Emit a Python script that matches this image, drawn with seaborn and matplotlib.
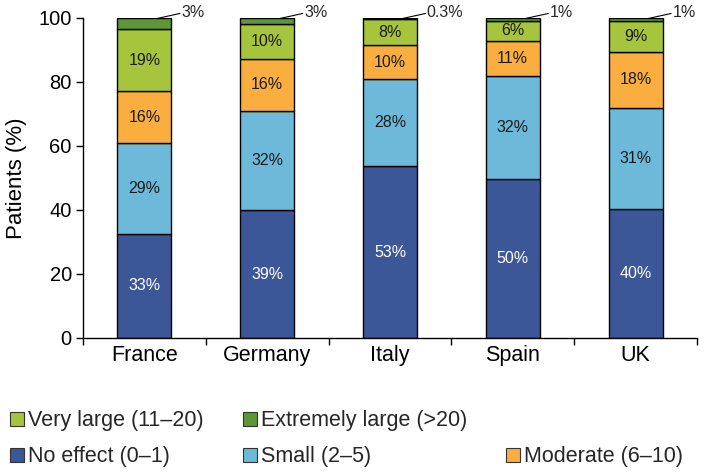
import matplotlib
matplotlib.use("Agg")
import matplotlib.pyplot as plt
import seaborn as sns
import pandas as pd
import numpy as np
from matplotlib.patches import Patch

# data
countries = ['France', 'Germany', 'Italy', 'Spain', 'UK']
categories = ['No effect (0\u20131)', 'Small (2\u20135)', 'Moderate (6\u201310)',
              'Very large (11\u201320)', 'Extremely large (>20)']
no_effect = [32.6, 39.9, 53.6, 49.8, 40.3]
small = [28.3, 31.1, 27.3, 31.9, 31.5]
moderate = [16.2, 16.1, 10.5, 11.2, 17.7]
very_large = [19.5, 10.9, 8.4, 6.2, 9.4]
extremely_large = [3.4, 2.0, 0.2, 0.9, 1.1]

label_no_effect = ['33%', '39%', '53%', '50%', '40%']
label_small = ['29%', '32%', '28%', '32%', '31%']
label_moderate = ['16%', '16%', '10%', '11%', '18%']
label_very_large = ['19%', '10%', '8%', '6%', '9%']
label_extremely_large = ['3%', '3%', '0.3%', '1%', '1%']

colors = ['#3C5797', '#6DB9DA', '#F9AE3F', '#A7C43D', '#5C9636']

sns.set_theme(style='ticks')
plt.rcParams['font.family'] = ['Liberation Sans', 'DejaVu Sans']

df = pd.DataFrame({
    'country': countries,
    categories[0]: no_effect,
    categories[1]: small,
    categories[2]: moderate,
    categories[3]: very_large,
    categories[4]: extremely_large,
})

fig = plt.figure(figsize=(7.09, 4.72), dpi=100)
ax = fig.add_axes([0.117, 0.284, 0.866, 0.678])

bottom = np.zeros(len(countries))
for cat, col in zip(categories, colors):
    sns.barplot(data=df, x='country', y=cat, bottom=bottom, color=col,
                edgecolor='black', linewidth=1.0, width=0.44, ax=ax,
                saturation=1)
    bottom = bottom + df[cat].values

# segment labels
seg_labels = [label_no_effect, label_small, label_moderate, label_very_large]
bottom = np.zeros(len(countries))
for k, (cat, labs) in enumerate(zip(categories[:4], seg_labels)):
    vals = df[cat].values
    for i, v in enumerate(vals):
        ax.text(i, bottom[i] + v / 2, labs[i], ha='center', va='center',
                fontsize=11.5, color='white' if k == 0 else '#1a1a1a')
    bottom = bottom + vals

# small top labels with leader lines
for i, lab in enumerate(label_extremely_large):
    ax.plot([i + 0.1, i + 0.29], [99.8, 101.4], color='black', lw=0.8,
            clip_on=False)
    ax.text(i + 0.3, 101.8, lab, ha='left', va='center', fontsize=11.5)

ax.set_xlim(-0.5, 4.5)
ax.set_ylim(0, 100)
ax.set_yticks([0, 20, 40, 60, 80, 100])
ax.set_xticks(range(len(countries)))
ax.set_xticklabels(countries)
ax.set_xticks(np.arange(-0.5, 4.6, 1.0), minor=True)
ax.tick_params(axis='x', which='major', length=0, labelsize=15.5, pad=5,
               colors='black')
ax.tick_params(axis='x', which='minor', length=5, width=1, colors='black')
ax.tick_params(axis='y', length=5, width=1, labelsize=14.5, colors='black',
               pad=3)
ax.set_xlabel('')
ax.set_ylabel('Patients (%)', fontsize=16, color='black', labelpad=8)
sns.despine(ax=ax)
for s in ['left', 'bottom']:
    ax.spines[s].set_color('black')
    ax.spines[s].set_linewidth(1)

# legend: row 1 Very large / Extremely large, row 2 No effect / Small / Moderate
handles = [Patch(facecolor=c, edgecolor='#333333', linewidth=0.8) for c in colors]
blank = Patch(facecolor='none', edgecolor='none')
order_handles = [handles[3], handles[0], handles[4], handles[1], blank, handles[2]]
order_labels = [categories[3], categories[0], categories[4], categories[1], '', categories[2]]
fig.legend(order_handles, order_labels, ncol=3, loc='center left',
           bbox_to_anchor=(0.014, 0.07), frameon=False, fontsize=15.5,
           handlelength=0.65, handleheight=0.65, handletextpad=0.2,
           columnspacing=1.8, labelspacing=0.7, borderaxespad=0,
           borderpad=0)

fig.savefig('out.png', dpi=100)
